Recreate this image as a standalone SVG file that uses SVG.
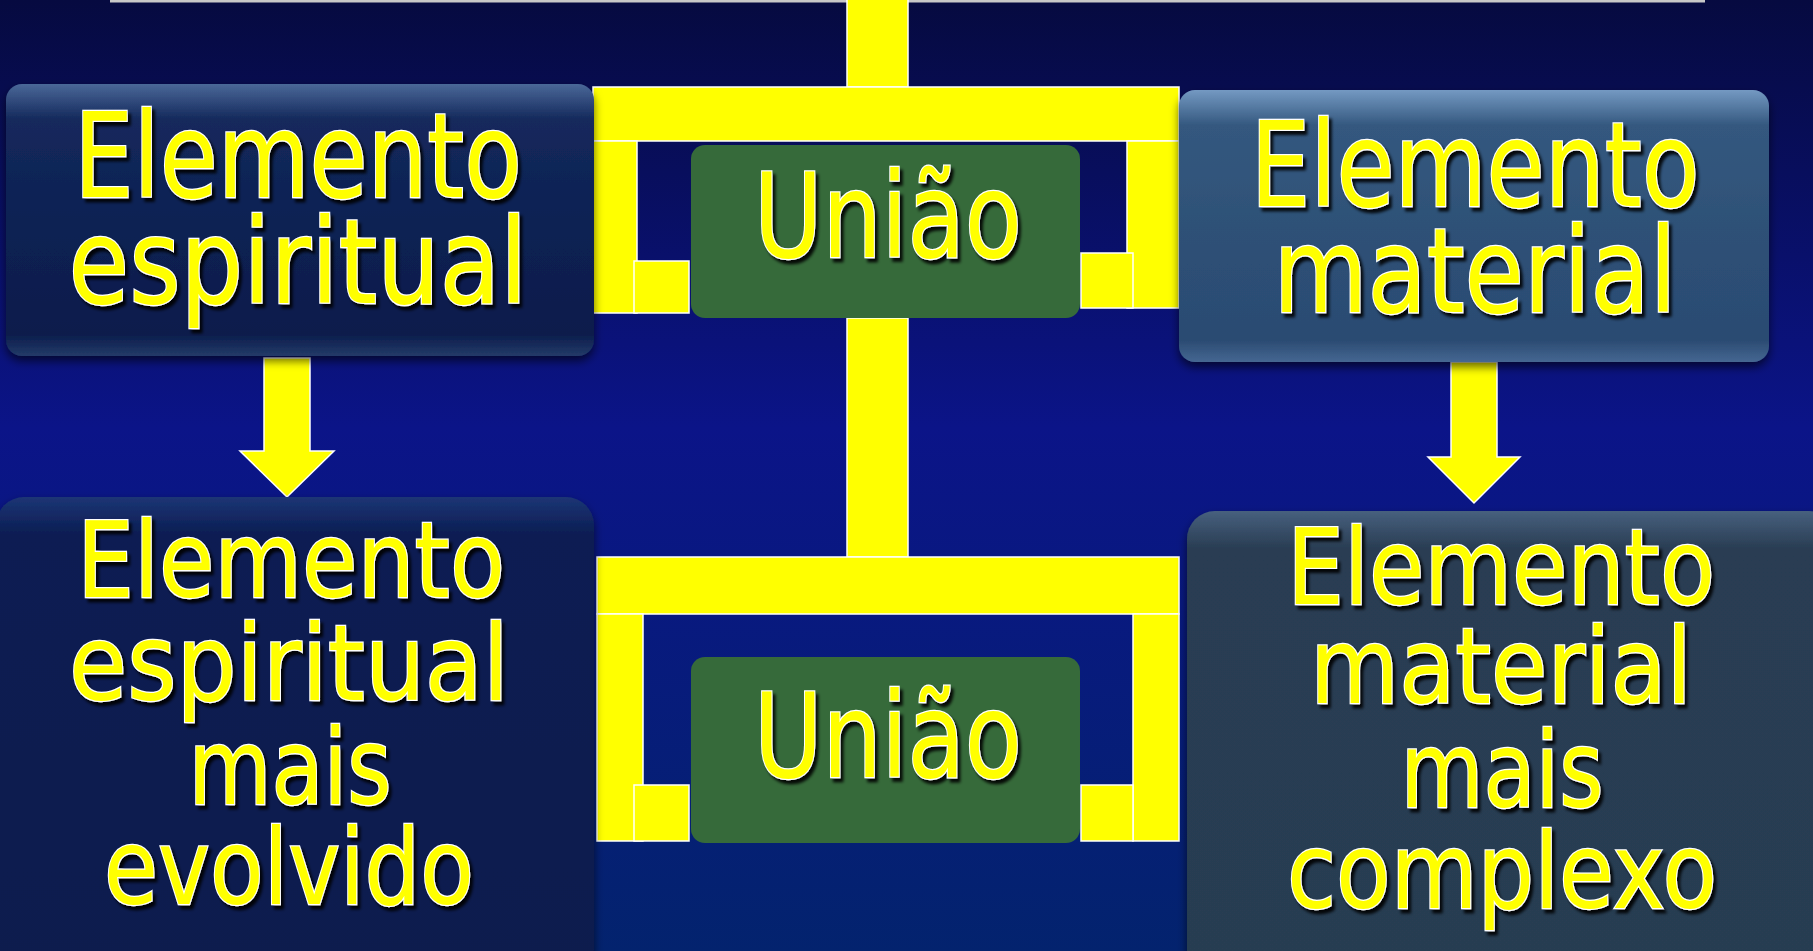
<svg xmlns="http://www.w3.org/2000/svg" width="1813" height="951" viewBox="0 0 1813 951">
<defs>
<linearGradient id="bg" x1="0" y1="0" x2="0" y2="1">
<stop offset="0" stop-color="#060a40"/>
<stop offset="0.45" stop-color="#0b1488"/>
<stop offset="1" stop-color="#03236e"/>
</linearGradient>
<linearGradient id="gTL" x1="0" y1="0" x2="0" y2="1">
<stop offset="0" stop-color="#4a6898"/>
<stop offset="0.13" stop-color="#14295c"/>
<stop offset="0.5" stop-color="#0d2153"/>
<stop offset="0.92" stop-color="#0b1d4c"/>
<stop offset="1" stop-color="#233a68"/>
</linearGradient>
<linearGradient id="gTR" x1="0" y1="0" x2="0" y2="1">
<stop offset="0" stop-color="#7499c2"/>
<stop offset="0.13" stop-color="#34587f"/>
<stop offset="0.5" stop-color="#2e5177"/>
<stop offset="0.92" stop-color="#2b4b72"/>
<stop offset="1" stop-color="#456792"/>
</linearGradient>
<linearGradient id="gBL" x1="0" y1="0" x2="0" y2="1">
<stop offset="0" stop-color="#1c3575"/>
<stop offset="0.08" stop-color="#0b1d52"/>
<stop offset="1" stop-color="#0a1b4e"/>
</linearGradient>
<linearGradient id="gBR" x1="0" y1="0" x2="0" y2="1">
<stop offset="0" stop-color="#47607e"/>
<stop offset="0.08" stop-color="#293d53"/>
<stop offset="1" stop-color="#283c51"/>
</linearGradient>
<filter id="ts" x="-10%" y="-20%" width="130%" height="150%">
<feDropShadow dx="3" dy="4" stdDeviation="1.5" flood-color="#000" flood-opacity="0.9"/>
</filter>
<filter id="bs" x="-5%" y="-5%" width="115%" height="120%">
<feDropShadow dx="0" dy="5" stdDeviation="5" flood-color="#000" flood-opacity="0.6"/>
</filter>
<style>
.y{fill:#ffff00;stroke:#ffffff;stroke-width:1.5}
.t{font-family:"DejaVu Sans","Liberation Sans",sans-serif;fill:#ffff00;stroke:#ffffff;stroke-width:2.5;paint-order:stroke;text-anchor:middle;filter:url(#ts)}
.big{font-size:118px}
.mid{font-size:106px}
.green{fill:#366a3a}
</style>
</defs>
<rect x="0" y="0" width="1813" height="951" fill="url(#bg)"/>
<rect x="110" y="0" width="1595" height="2.5" fill="#c8c8c8"/>

<g id="connectors">
<rect class="y" x="847" y="-2" width="61" height="89"/>
<rect class="y" x="593" y="87" width="586" height="54"/>
<rect class="y" x="593" y="141" width="44" height="172"/>
<rect class="y" x="634" y="261" width="55" height="52"/>
<rect class="y" x="1127" y="141" width="52" height="167"/>
<rect class="y" x="1081" y="253" width="52" height="55"/>
<rect class="y" x="847" y="318" width="61" height="239"/>
<rect class="y" x="597" y="557" width="582" height="57"/>
<rect class="y" x="597" y="614" width="46" height="227"/>
<rect class="y" x="634" y="785" width="55" height="56"/>
<rect class="y" x="1133" y="614" width="46" height="227"/>
<rect class="y" x="1081" y="785" width="52" height="56"/>
<polygon class="y" points="264,358 310,358 310,451 334,451 287,497 240,451 264,451"/>
<polygon class="y" points="1451,362 1497,362 1497,457 1520,457 1474,503 1428,457 1451,457"/>
</g>

<g id="uniao1">
<rect class="green" x="691" y="145" width="389" height="173" rx="14"/>
<text class="t big" x="888" y="257" textLength="268" lengthAdjust="spacingAndGlyphs">União</text>
</g>
<g id="uniao2">
<rect class="green" x="691" y="657" width="389" height="186" rx="14"/>
<text class="t big" x="888" y="777" textLength="268" lengthAdjust="spacingAndGlyphs">União</text>
</g>

<g id="espiritual">
<rect x="6" y="84" width="588" height="272" rx="16" fill="url(#gTL)" filter="url(#bs)"/>
<text class="t big" x="298" y="197" textLength="448" lengthAdjust="spacingAndGlyphs">Elemento</text>
<text class="t big" x="298" y="303" textLength="459" lengthAdjust="spacingAndGlyphs">espiritual</text>
</g>

<g id="material">
<rect x="1179" y="90" width="590" height="272" rx="16" fill="url(#gTR)" filter="url(#bs)"/>
<text class="t big" x="1475" y="206" textLength="449" lengthAdjust="spacingAndGlyphs">Elemento</text>
<text class="t big" x="1475" y="312" textLength="403" lengthAdjust="spacingAndGlyphs">material</text>
</g>

<g id="espiritual-evolvido">
<rect x="-4" y="497" width="598" height="480" rx="28" fill="url(#gBL)" filter="url(#bs)"/>
<text class="t mid" x="291" y="597" textLength="428" lengthAdjust="spacingAndGlyphs">Elemento</text>
<text class="t mid" x="289" y="700" textLength="440" lengthAdjust="spacingAndGlyphs">espiritual</text>
<text class="t mid" x="290" y="804" textLength="203" lengthAdjust="spacingAndGlyphs">mais</text>
<text class="t mid" x="289" y="904" textLength="370" lengthAdjust="spacingAndGlyphs">evolvido</text>
</g>

<g id="material-complexo">
<rect x="1187" y="511" width="650" height="470" rx="28" fill="url(#gBR)" filter="url(#bs)"/>
<text class="t mid" x="1501" y="604" textLength="428" lengthAdjust="spacingAndGlyphs">Elemento</text>
<text class="t mid" x="1501" y="703" textLength="382" lengthAdjust="spacingAndGlyphs">material</text>
<text class="t mid" x="1502" y="807" textLength="203" lengthAdjust="spacingAndGlyphs">mais</text>
<text class="t mid" x="1502" y="908" textLength="430" lengthAdjust="spacingAndGlyphs">complexo</text>
</g>
</svg>
